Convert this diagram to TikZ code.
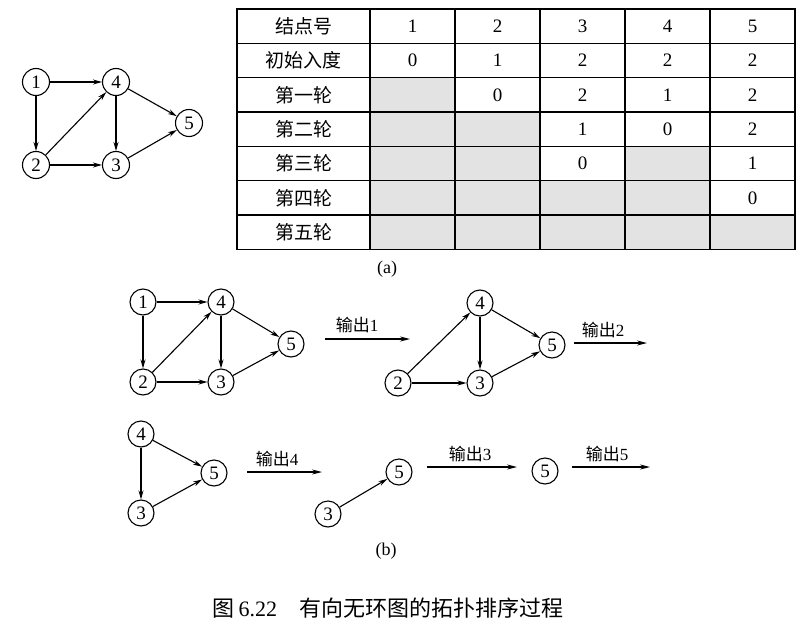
\documentclass[tikz,border=0pt]{standalone}
\usepackage{fontspec}
\setmainfont{Liberation Serif}
\newfontfamily\cjk{Noto Sans CJK SC}
\usetikzlibrary{arrows.meta}
\begin{document}
\begin{tikzpicture}[x=1pt,y=-1pt,
  vert/.style={circle,draw,line width=1.1pt,minimum size=27pt,inner sep=0pt,font=\fontsize{19}{19}\selectfont},
  svert/.style={vert,minimum size=26pt},
  arc/.style={-{Stealth[length=9pt,width=5pt]},line width=1.1pt},
  outarrow/.style={-{Stealth[length=10pt,width=5pt]},line width=1.1pt},
  lbl/.style={font=\fontsize{17}{17}\selectfont,inner sep=0pt},
  cell/.style={font=\fontsize{19}{19}\selectfont,inner sep=0pt},
  shadecell/.style={fill=black!11,draw=none},
  grid/.style={line width=1.2pt}]
\useasboundingbox (0,0) rectangle (810,626);

% ---- graph (a)
\node[vert] (a1) at (36,82) {1};
\node[vert] (a4) at (116,82) {4};
\node[vert] (a5) at (189,123) {5};
\node[vert] (a2) at (36,165) {2};
\node[vert] (a3) at (116,165) {3};
\draw[arc] (a1)--(a4);
\draw[arc] (a1)--(a2);
\draw[arc] (a2)--(a4);
\draw[arc] (a2)--(a3);
\draw[arc] (a4)--(a3);
\draw[arc] (a4)--(a5);
\draw[arc] (a3)--(a5);

% ---- table
\fill[shadecell] (370,77.7) rectangle (455,112);
\fill[shadecell] (370,112) rectangle (540,146.3);
\fill[shadecell] (370,146.3) rectangle (540,180.7);
\fill[shadecell] (625,146.3) rectangle (710,180.7);
\fill[shadecell] (370,180.7) rectangle (710,215);
\fill[shadecell] (370,215) rectangle (795,249.3);
\draw[grid] (237,9) rectangle (795,249.3);
\foreach \yy in {43.3,77.7,112,146.3,180.7,215} \draw[grid] (237,\yy) -- (795,\yy);
\foreach \xx in {370,455,540,625,710} \draw[grid] (\xx,9) -- (\xx,249.3);

\node[cell] (h0) at (303.5,26.2) {\cjk 结点号};
\node[cell] (r1) at (303.5,60.5) {\cjk 初始入度};
\node[cell] (r2) at (303.5,94.8) {\cjk 第一轮};
\node[cell] (r3) at (303.5,129.2) {\cjk 第二轮};
\node[cell] (r4) at (303.5,163.5) {\cjk 第三轮};
\node[cell] (r5) at (303.5,197.8) {\cjk 第四轮};
\node[cell] (r6) at (303.5,232.2) {\cjk 第五轮};

\node[cell] (h1) at (412.5,26.2) {1};
\node[cell] (h2) at (497.5,26.2) {2};
\node[cell] (h3) at (582.5,26.2) {3};
\node[cell] (h4) at (667.5,26.2) {4};
\node[cell] (h5) at (752.5,26.2) {5};

\node[cell] (d11) at (412.5,60.5) {0};
\node[cell] (d12) at (497.5,60.5) {1};
\node[cell] (d13) at (582.5,60.5) {2};
\node[cell] (d14) at (667.5,60.5) {2};
\node[cell] (d15) at (752.5,60.5) {2};

\node[cell] (d22) at (497.5,94.8) {0};
\node[cell] (d23) at (582.5,94.8) {2};
\node[cell] (d24) at (667.5,94.8) {1};
\node[cell] (d25) at (752.5,94.8) {2};

\node[cell] (d33) at (582.5,129.2) {1};
\node[cell] (d34) at (667.5,129.2) {0};
\node[cell] (d35) at (752.5,129.2) {2};

\node[cell] (d43) at (582.5,163.5) {0};
\node[cell] (d45) at (752.5,163.5) {1};

\node[cell] (d55) at (752.5,197.8) {0};

\node[lbl,font=\fontsize{18}{18}\selectfont] (capa) at (387,269) {(a)};

% ---- (b) row 1
\node[svert] (b1) at (143,302) {1};
\node[svert] (b4) at (221,302) {4};
\node[svert] (b5) at (291,344) {5};
\node[svert] (b2) at (143,382) {2};
\node[svert] (b3) at (221,382) {3};
\draw[arc] (b1)--(b4);
\draw[arc] (b1)--(b2);
\draw[arc] (b2)--(b4);
\draw[arc] (b2)--(b3);
\draw[arc] (b4)--(b3);
\draw[arc] (b4)--(b5);
\draw[arc] (b3)--(b5);

\coordinate (o1s) at (325,339);
\coordinate (o1e) at (410,339);
\draw[outarrow] (o1s) -- (o1e);
\node[lbl] (o1l) at (357,325) {{\cjk 输出}1};

\node[svert] (c4) at (480,303) {4};
\node[svert] (c5) at (552,345) {5};
\node[svert] (c2) at (398,383) {2};
\node[svert] (c3) at (480,383) {3};
\draw[arc] (c2)--(c4);
\draw[arc] (c2)--(c3);
\draw[arc] (c4)--(c3);
\draw[arc] (c4)--(c5);
\draw[arc] (c3)--(c5);

\coordinate (o2s) at (574,343);
\coordinate (o2e) at (647,343);
\draw[outarrow] (o2s) -- (o2e);
\node[lbl] (o2l) at (603,330) {{\cjk 输出}2};

% ---- (b) row 2
\node[svert] (e4) at (141,434) {4};
\node[svert] (e5) at (214,473) {5};
\node[svert] (e3) at (141,513) {3};
\draw[arc] (e4)--(e3);
\draw[arc] (e4)--(e5);
\draw[arc] (e3)--(e5);

\coordinate (o4s) at (247,472);
\coordinate (o4e) at (322,472);
\draw[outarrow] (o4s) -- (o4e);
\node[lbl] (o4l) at (277,459) {{\cjk 输出}4};

\node[svert] (f5) at (399,472) {5};
\node[svert] (f3) at (328,514) {3};
\draw[arc] (f3)--(f5);

\coordinate (o3s) at (427,467);
\coordinate (o3e) at (517,467);
\draw[outarrow] (o3s) -- (o3e);
\node[lbl] (o3l) at (470,454) {{\cjk 输出}3};

\node[svert] (g5) at (545,471) {5};

\coordinate (o5s) at (572,467);
\coordinate (o5e) at (650,467);
\draw[outarrow] (o5s) -- (o5e);
\node[lbl] (o5l) at (607,454) {{\cjk 输出}5};

\node[lbl,font=\fontsize{18}{18}\selectfont] (capb) at (386,551) {(b)};

% ---- caption
\node[inner sep=0pt,font=\fontsize{22}{22}\selectfont] (cap) at (388,608)
  {{\cjk 图}\,6.22\hspace{22pt}{\cjk 有向无环图的拓扑排序过程}};
\end{tikzpicture}
\end{document}
